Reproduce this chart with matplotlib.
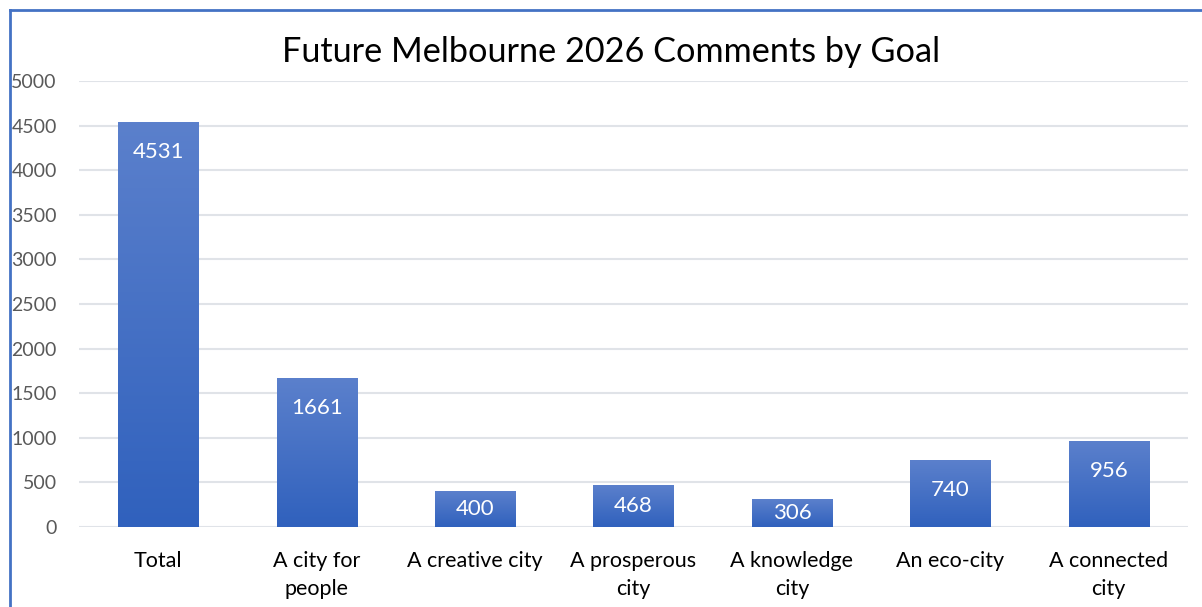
import matplotlib
matplotlib.use("Agg")
from matplotlib import pyplot as plt
from matplotlib.colors import LinearSegmentedColormap
import numpy as np

# data
categories = ["Total", "A city for\npeople", "A creative city", "A prosperous\ncity",
              "A knowledge\ncity", "An eco-city", "A connected\ncity"]
comments = [4531, 1661, 400, 468, 306, 740, 956]
yticks = [0, 500, 1000, 1500, 2000, 2500, 3000, 3500, 4000, 4500, 5000]

plt.rcParams['font.family'] = ['Lato', 'DejaVu Sans']

fig = plt.figure(figsize=(12.02, 6.07), dpi=100)
ax_h = (527 - 81) / 607
ax = fig.add_axes([79 / 1202, 1 - 527 / 607, (1188 - 79) / 1202, ax_h])

# blue frame (only top/left visible in the crop)
fig.add_artist(plt.Line2D([10 / 1202, 10 / 1202], [0, 1 - 10 / 607], color="#4472C4", lw=2))
fig.add_artist(plt.Line2D([10 / 1202, 1], [1 - 10 / 607, 1 - 10 / 607], color="#4472C4", lw=2))

grad = LinearSegmentedColormap.from_list("g", ["#3061BD", "#5B80CC"])
x = np.arange(len(categories))
w = 0.505
px_per_unit = (527 - 81) / 5000
for xi, v in zip(x, comments):
    img = np.linspace(0, 1, 256).reshape(-1, 1)
    ax.imshow(img, cmap=grad, origin="lower", aspect="auto",
              extent=[xi - w / 2, xi + w / 2, 0, v], zorder=3)
    off = min(29, v * px_per_unit / 2)
    ax.annotate(str(v), (xi, v), xytext=(0, -off * 0.72), textcoords="offset points",
                ha="center", va="center", color="white", fontsize=16, zorder=4)

ax.set_xlim(-0.5, len(categories) - 0.5)
ax.set_ylim(0, 5000)
ax.set_yticks(yticks)
ax.set_yticklabels([str(t) for t in yticks], color="#595959", fontsize=14)
ax.set_xticks(x)
ax.set_xticklabels(categories, fontsize=15.5, color="black", linespacing=1.55)
ax.tick_params(length=0)
ax.tick_params(axis="x", pad=17)
ax.tick_params(axis="y", pad=16)
for ax_y in yticks:
    ax.axhline(ax_y, color="#E0E3E8", lw=1.5, zorder=1)
for s in ax.spines.values():
    s.set_visible(False)

fig.text(611 / 1202, 1 - 52 / 607, "Future Melbourne 2026 Comments by Goal",
         ha="center", va="center", fontsize=24.7)

fig.savefig("out.png", dpi=100)
